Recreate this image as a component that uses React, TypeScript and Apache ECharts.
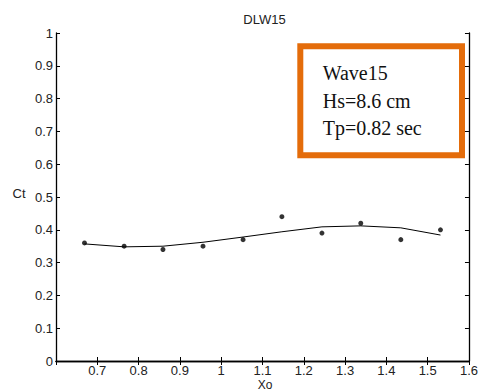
import React, { useEffect, useRef } from "react";
import * as echarts from "echarts";

const titleText = "DLW15";
const xName = "Xo";
const yName = "Ct";
const xPoints = [0.669, 0.765, 0.859, 0.956, 1.053, 1.147, 1.244, 1.338, 1.435, 1.531];
const measured = [0.36, 0.35, 0.34, 0.35, 0.37, 0.44, 0.39, 0.42, 0.37, 0.40];
const fitted = [0.357, 0.348, 0.350, 0.362, 0.378, 0.394, 0.409, 0.412, 0.406, 0.384];
const boxLines = ["Wave15", "Hs=8.6 cm", "Tp=0.82 sec"];

const sans = "Liberation Sans, Arial, sans-serif";
const serif = "Liberation Serif, Times New Roman, serif";

export default function App() {
  const ref = useRef<HTMLDivElement>(null);
  useEffect(() => {
    if (!ref.current) return;
    const chart = echarts.init(ref.current, undefined, { renderer: "svg" });
    const axisLine = { show: true, lineStyle: { color: "#000", width: 1.3 } };
    const tick = { show: true, inside: true, length: 4, lineStyle: { color: "#000", width: 1 } };
    const label = { color: "#222", fontSize: 13, fontFamily: sans };
    chart.setOption({
      animation: false,
      grid: { left: 56, top: 33, right: 8, bottom: 30, containLabel: false },
      xAxis: [
        {
          type: "value", min: 0.6, max: 1.6, interval: 0.1, position: "bottom",
          axisLine, axisTick: tick, splitLine: { show: false },
          axisLabel: { ...label, margin: 3, lineHeight: 13, showMinLabel: false, showMaxLabel: true,
            formatter: (v: number) => String(Math.round(v * 10) / 10) },
        },
        {
          type: "value", min: 0.6, max: 1.6, interval: 0.1, position: "top",
          axisLine, axisTick: tick, splitLine: { show: false }, axisLabel: { show: false },
        },
      ],
      yAxis: [
        {
          type: "value", min: 0, max: 1, interval: 0.1, position: "left",
          axisLine, axisTick: tick, splitLine: { show: false },
          axisLabel: { ...label, margin: 3, formatter: (v: number) => String(Math.round(v * 10) / 10) },
        },
        {
          type: "value", min: 0, max: 1, interval: 0.1, position: "right",
          axisLine, axisTick: tick, splitLine: { show: false }, axisLabel: { show: false },
        },
      ],
      series: [
        {
          type: "line",
          data: xPoints.map((x, i) => [x, fitted[i]]),
          showSymbol: false,
          lineStyle: { color: "#000", width: 1 },
          itemStyle: { color: "#000" },
        },
        {
          type: "scatter",
          data: xPoints.map((x, i) => [x, measured[i]]),
          symbolSize: 5,
          itemStyle: { color: "#000" },
        },
      ],
      graphic: [
        { type: "text", x: 264.5, y: 19, style: { text: titleText, font: `13px ${sans}`, fill: "#222", align: "center", verticalAlign: "middle" } },
        { type: "text", x: 19, y: 193, style: { text: yName, font: `13px ${sans}`, fill: "#222", align: "center", verticalAlign: "middle" } },
        { type: "text", x: 265, y: 384.5, style: { text: xName, font: `12px ${sans}`, fill: "#222", align: "center", verticalAlign: "middle" } },
        { type: "rect", shape: { x: 300.3, y: 46.3, width: 161.7, height: 109 }, style: { fill: "#fff", stroke: "#E46C0A", lineWidth: 6 } },
        ...boxLines.map((t, i) => ({
          type: "text", x: 322.7, y: 73.3 + i * 27.2,
          style: { text: t, font: `20px ${serif}`, fill: "#111", align: "left", verticalAlign: "middle" },
        })),
      ],
    });
    return () => chart.dispose();
  }, []);
  return <div ref={ref} style={{ width: 481, height: 391, position: "absolute", left: 0, top: 0, background: "#fff" }} />;
}
